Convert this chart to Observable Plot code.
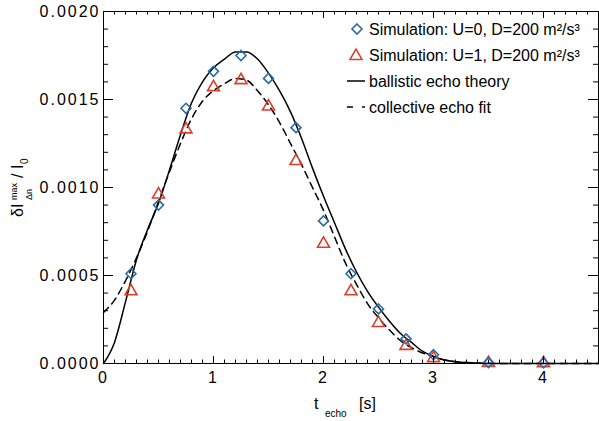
<!DOCTYPE html>
<html><head><meta charset="utf-8">
<script src="https://cdn.jsdelivr.net/npm/d3@7"></script>
<script src="https://cdn.jsdelivr.net/npm/@observablehq/plot@0.6"></script>
<style>
html,body{margin:0;padding:0;background:#fff;}
#chart svg{display:block;}
#chart g[aria-label="y-axis tick label"] text, #chart g[aria-label="x-axis tick label"] text{letter-spacing:2px;}
</style>
</head><body><div id="chart"></div>
<script>
// ---- data ----
const tSim = [0.25, 0.5, 0.75, 1.0, 1.25, 1.5, 1.75, 2.0, 2.25, 2.5, 2.75, 3.0, 3.5, 4.0];
const simU0 = [0.00051, 0.00090, 0.00145, 0.00166, 0.00175, 0.00162, 0.00134, 0.00081, 0.00051, 0.00031, 0.00014, 0.00005, 0.000005, 0.000003];
const simU1 = [0.00041, 0.00096, 0.00133, 0.00157, 0.00161, 0.00146, 0.00115, 0.00068, 0.00041, 0.00023, 0.00010, 0.00003, 0.000003, 0.000002];

const tTheory = [0, 0.1, 0.2, 0.3, 0.4, 0.5, 0.6, 0.7, 0.8, 0.9, 1.0, 1.1, 1.2, 1.3, 1.4, 1.5, 1.6, 1.7, 1.8, 1.9, 2.0, 2.1, 2.2, 2.3, 2.4, 2.5, 2.6, 2.7, 2.8, 2.9, 3.0, 3.1, 3.2, 3.3, 3.4, 3.6, 4.0, 4.5];
const yTheory = [0, 0.00012, 0.00035, 0.00059, 0.00076, 0.00091, 0.00110, 0.00130, 0.00148, 0.00160, 0.00168, 0.00173, 0.00177, 0.00177, 0.00173, 0.00165, 0.00155, 0.00143, 0.00128, 0.00111, 0.00095, 0.00080, 0.00065, 0.00052, 0.00041, 0.00032, 0.00024, 0.00017, 0.00012, 0.00007, 0.00004, 0.00002, 0.00001, 0.000005, 0.000002, 0.0000005, 0, 0];

const tFit = [0, 0.1, 0.2, 0.3, 0.4, 0.5, 0.6, 0.7, 0.8, 0.9, 1.0, 1.1, 1.2, 1.3, 1.4, 1.5, 1.6, 1.7, 1.8, 1.9, 2.0, 2.1, 2.2, 2.3, 2.4, 2.5, 2.6, 2.7, 2.8, 2.9, 3.0, 3.1, 3.2, 3.4, 3.6, 4.0, 4.5];
const yFit = [0.00029, 0.00036, 0.00047, 0.00060, 0.00075, 0.00092, 0.00109, 0.00125, 0.00139, 0.00149, 0.00155, 0.00159, 0.00162, 0.00161, 0.00155, 0.00147, 0.00137, 0.00125, 0.00113, 0.00100, 0.00087, 0.00072, 0.00057, 0.00045, 0.00034, 0.00026, 0.00019, 0.00013, 0.00009, 0.00006, 0.00004, 0.00002, 0.00001, 0.000003, 0, 0, 0];

const xTickLabels = [0, 1, 2, 3, 4];
const yTickLabels = [0, 0.0005, 0.0010, 0.0015, 0.0020];
const legendLabels = ["Simulation: U=0, D=200 m²/s³", "Simulation: U=1, D=200 m²/s³", "ballistic echo theory", "collective echo fit"];

// ---- build ----
const BLUE = "#2a6ca3", RED = "#d8402e";
const FONT = "'Liberation Sans', Arial, Helvetica, sans-serif";
const W = 599, H = 421, mL = 103, mR = 1, mT = 11, mB = 58;
const plotW = W - mL - mR, plotH = H - mT - mB;

const sim0 = tSim.map((t, i) => ({t, v: simU0[i]}));
const sim1 = tSim.map((t, i) => ({t, v: simU1[i]}));
const theory = tTheory.map((t, i) => ({t, v: yTheory[i]}));
const fit = tFit.map((t, i) => ({t, v: yFit[i]}));

const xMinor = d3.range(0, 46).map(i => i / 10);
const yMinor = d3.range(0, 21).map(i => i / 10000);

const xMajLen = 7, xMinLen = 3.5, yMajLen = 10, yMinLen = 5;

const chart = Plot.plot({
  width: W, height: H,
  marginLeft: mL, marginRight: mR, marginTop: mT, marginBottom: mB,
  x: {domain: [0, 4.5]},
  y: {domain: [0, 0.002]},
  style: {fontFamily: FONT, fontSize: "16px", color: "black", background: "white", overflow: "visible"},
  marks: [
    Plot.line(theory, {x: "t", y: "v", stroke: "black", strokeWidth: 1.5, curve: "monotone-x"}),
    Plot.line(fit, {x: "t", y: "v", stroke: "black", strokeWidth: 1.5, strokeDasharray: "7,5", curve: "monotone-x"}),
    Plot.dot(sim1, {x: "t", y: "v", symbol: "triangle2", r: 5.7, stroke: RED, strokeWidth: 1.6, fill: "none"}),
    Plot.dot(sim0, {x: "t", y: "v", symbol: "diamond2", r: 4.5, stroke: BLUE, strokeWidth: 1.6, fill: "none"}),
    // inward ticks, all four sides
    Plot.tickX(xTickLabels, {x: d => d, insetTop: plotH - xMajLen}),
    Plot.tickX(xMinor, {x: d => d, insetTop: plotH - xMinLen}),
    Plot.tickX(xTickLabels, {x: d => d, insetBottom: plotH - xMajLen}),
    Plot.tickX(xMinor, {x: d => d, insetBottom: plotH - xMinLen}),
    Plot.tickY(yTickLabels, {y: d => d, insetRight: plotW - yMajLen}),
    Plot.tickY(yMinor, {y: d => d, insetRight: plotW - yMinLen}),
    Plot.tickY(yTickLabels, {y: d => d, insetLeft: plotW - yMajLen}),
    Plot.tickY(yMinor, {y: d => d, insetLeft: plotW - yMinLen}),
    Plot.frame({stroke: "black"}),
    Plot.axisX(xTickLabels, {tickSize: 0, tickPadding: 8, tickFormat: d => String(d), label: null}),
    Plot.axisY(yTickLabels, {tickSize: 0, tickPadding: 3, tickFormat: d3.format(".4f"), label: null})
  ]
});
document.getElementById("chart").appendChild(chart);

const svg = d3.select(chart);

// y-axis title (rotated)
const yt = svg.append("g").attr("transform", "translate(23,187) rotate(-90)")
  .attr("font-family", FONT).attr("fill", "black").attr("text-anchor", "start");
yt.append("text").attr("x", -30).attr("y", 0).attr("font-size", 16).text("δI");
yt.append("text").attr("x", -13).attr("y", -6).attr("font-size", 9).text("max");
yt.append("text").attr("x", -13).attr("y", 9).attr("font-size", 9).text("Δn");
yt.append("text").attr("x", 9).attr("y", 0).attr("font-size", 16).text("/");
yt.append("text").attr("x", 18).attr("y", 0).attr("font-size", 16).text("I");
yt.append("text").attr("x", 23).attr("y", 5).attr("font-size", 10).text("0");

// x-axis title
const xt = svg.append("g").attr("font-family", FONT).attr("fill", "black").attr("text-anchor", "start");
xt.append("text").attr("x", 314).attr("y", 409).attr("font-size", 16).text("t");
xt.append("text").attr("x", 325).attr("y", 417).attr("font-size", 10).text("echo");
xt.append("text").attr("x", 359).attr("y", 409).attr("font-size", 16).text("[s]");

// legend
const lg = svg.append("g").attr("font-family", FONT).attr("font-size", 16).attr("fill", "black").attr("text-anchor", "start");
const rowsY = [29, 55, 81, 107];
lg.append("path").attr("transform", `translate(357,${rowsY[0]})`)
  .attr("d", d3.symbol(d3.symbolDiamond2, Math.PI * 4.5 * 4.5)())
  .attr("fill", "none").attr("stroke", BLUE).attr("stroke-width", 1.6);
lg.append("path").attr("transform", `translate(356,${rowsY[1] + 1})`)
  .attr("d", d3.symbol(d3.symbolTriangle2, Math.PI * 5.7 * 5.7)())
  .attr("fill", "none").attr("stroke", RED).attr("stroke-width", 1.6);
lg.append("line").attr("x1", 347).attr("x2", 365).attr("y1", rowsY[2]).attr("y2", rowsY[2])
  .attr("stroke", "black").attr("stroke-width", 1.5);
lg.append("line").attr("x1", 347).attr("x2", 365).attr("y1", rowsY[3]).attr("y2", rowsY[3])
  .attr("stroke", "black").attr("stroke-width", 1.5).attr("stroke-dasharray", "6,9");
legendLabels.forEach((s, i) => {
  lg.append("text").attr("x", 369).attr("y", rowsY[i]).attr("dy", "0.36em").text(s);
});
</script>
</body></html>
